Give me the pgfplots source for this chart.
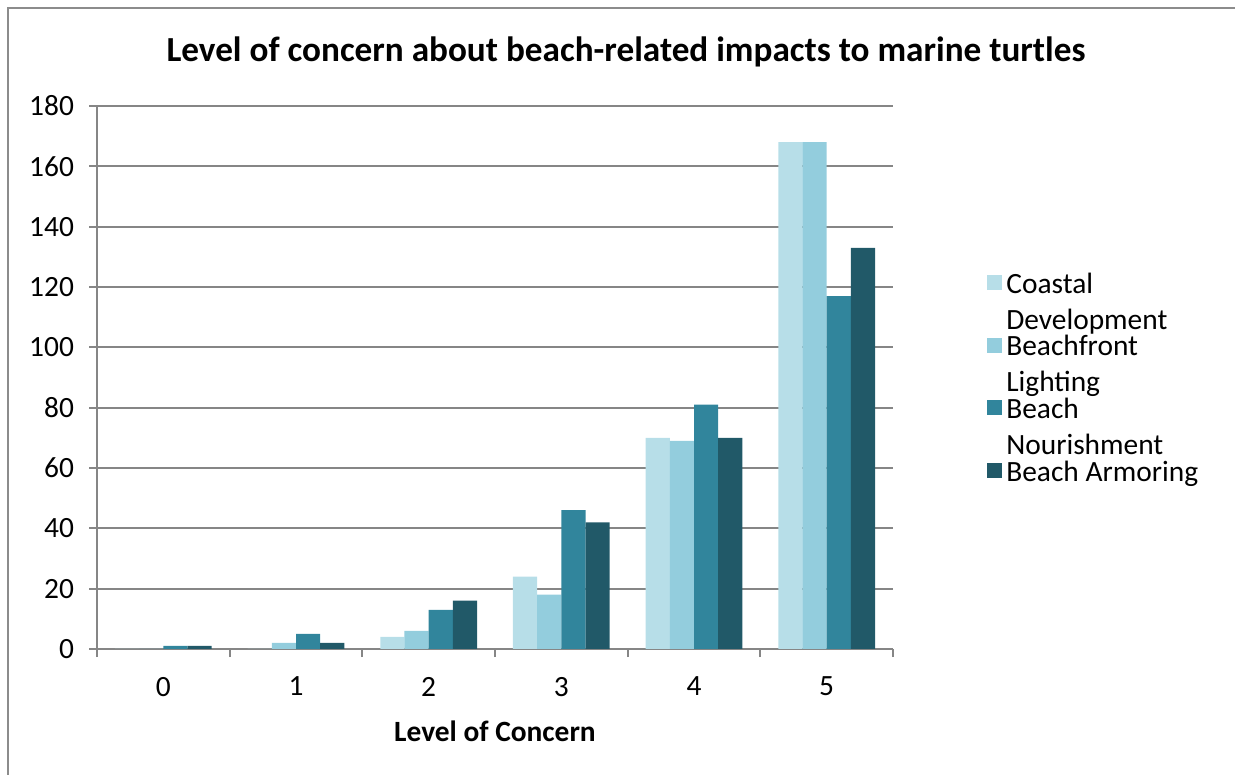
\documentclass[border=0pt]{standalone}
\usepackage{pgfplots}
\pgfplotsset{compat=1.18}
\usepackage{fontspec}
\setmainfont{Carlito}
\definecolor{c1}{HTML}{B7DEE8}
\definecolor{c2}{HTML}{93CDDD}
\definecolor{c3}{HTML}{31859C}
\definecolor{c4}{HTML}{215968}
\definecolor{gridgray}{HTML}{868686}
\definecolor{bordergray}{HTML}{8C8C8C}
\newcommand\twoline[2]{\begin{tabular}[t]{@{}l@{}}#1\\#2\end{tabular}}
\newcommand\oneline[1]{\begin{tabular}[t]{@{}l@{}}#1\end{tabular}}
\begin{document}
\begin{tikzpicture}
\path[use as bounding box] (0pt,0pt) rectangle (617.5pt,387.5pt);
\draw[bordergray, line width=0.8pt] (4pt,0pt) -- (4pt,383.5pt) -- (617.5pt,383.5pt);
\node[font=\bfseries\fontsize{17.6}{20}\selectfont] at (313pt,361.5pt) {Level of concern about beach-related impacts to marine turtles};
\begin{axis}[
  at={(48.5pt,63pt)}, anchor=south west,
  scale only axis, width=398pt, height=271.5pt,
  xmin=-0.5, xmax=5.5, ymin=0, ymax=180,
  ytick={0,20,...,180},
  xtick={0,...,5},
  minor xtick={-0.5,0.5,...,5.5},
  axis x line*=bottom, axis y line*=left,
  axis line style={draw=gridgray, line width=1pt, -},
  ymajorgrids, major grid style={gridgray, line width=1pt},
  tick align=outside,
  major tick length=4pt, minor tick length=4pt,
  major x tick style={draw=none},
  minor x tick style={gridgray, line width=1pt},
  major y tick style={gridgray, line width=1pt},
  /pgf/number format/assume math mode=true,
  ticklabel style={font=\fontsize{14.7}{17}\selectfont},
  xticklabel style={yshift=-6.5pt},
  yticklabel style={xshift=-4pt},
  xlabel={Level of Concern},
  xlabel style={font=\bfseries\fontsize{14.7}{17}\selectfont, yshift=-5.5pt},
  ybar=0pt, bar width=12.1pt,
  legend cell align=left,
  legend style={at={(1.118,0.71)}, anchor=north west, draw=none, inner sep=0pt,
    row sep=13.25pt, font=\fontsize{14.7}{18}\selectfont},
  legend image code/.code={\fill[#1] (-3pt,-4pt) rectangle (4.5pt,3.5pt);},
]
\addplot[fill=c1, draw=none] coordinates {(0,0) (1,0) (2,4) (3,24) (4,70) (5,168)};
\addplot[fill=c2, draw=none] coordinates {(0,0) (1,2) (2,6) (3,18) (4,69) (5,168)};
\addplot[fill=c3, draw=none] coordinates {(0,1) (1,5) (2,13) (3,46) (4,81) (5,117)};
\addplot[fill=c4, draw=none] coordinates {(0,1) (1,2) (2,16) (3,42) (4,70) (5,133)};
\addlegendentry{\twoline{Coastal}{Development}}
\addlegendentry{\twoline{Beachfront}{Lighting}}
\addlegendentry{\twoline{Beach}{Nourishment}}
\addlegendentry{\oneline{Beach Armoring}}
\end{axis}
\end{tikzpicture}
\end{document}
